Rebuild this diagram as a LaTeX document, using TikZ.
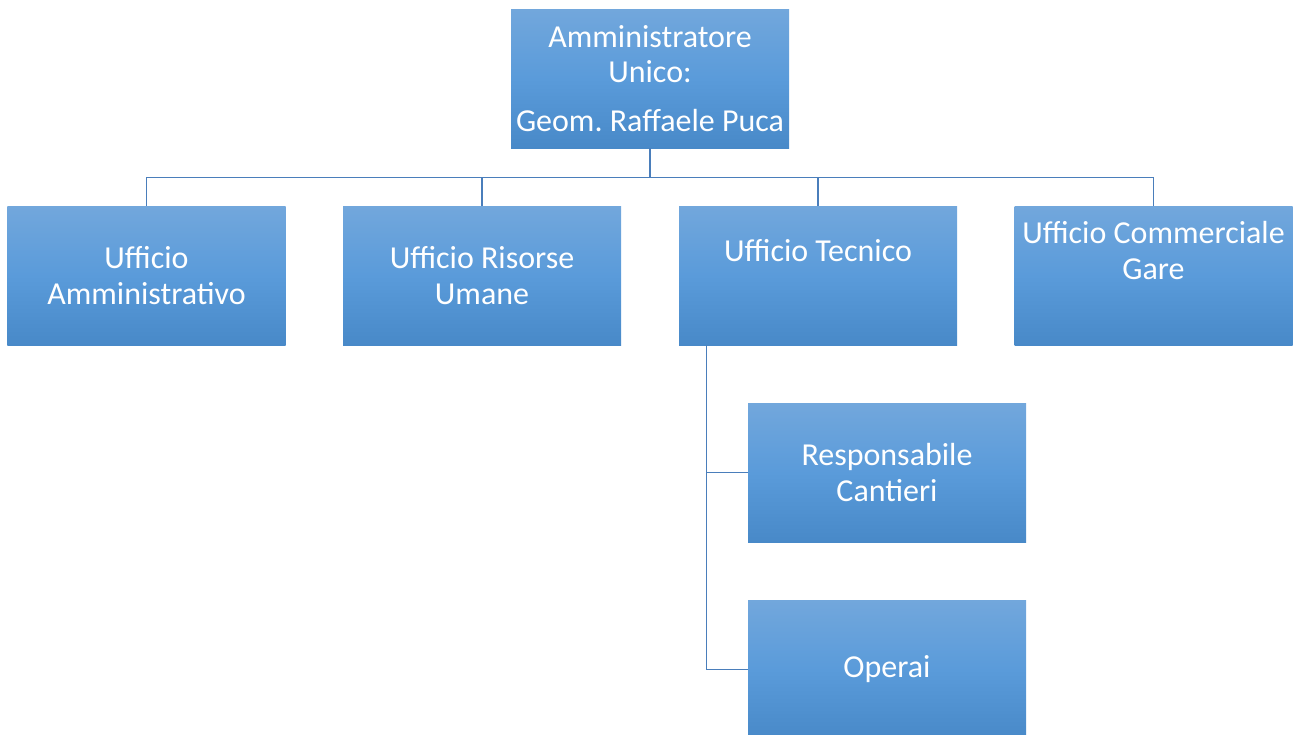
\documentclass[tikz,border=0pt]{standalone}
\usepackage{fontspec}
\setmainfont{Carlito}
\usepackage{tikz}
\usetikzlibrary{positioning}
\frenchspacing
\definecolor{boxtop}{HTML}{72A7DC}
\definecolor{boxmid}{HTML}{5A9BDA}
\definecolor{boxbot}{HTML}{4889C8}
\definecolor{linkblue}{HTML}{4A7EBB}
\tikzset{
    office/.style={
        rectangle,
        minimum width=5.56cm,
        minimum height=2.78cm,
        inner sep=0pt,
        top color=boxtop,
        bottom color=boxbot,
        middle color=boxmid,
        text=white,
        align=center,
        font=\fontsize{18.2}{20.4}\selectfont
    },
    officetext/.style={
        text=white,
        align=center,
        font=\fontsize{18.2}{20.4}\selectfont
    },
    link/.style={
        draw=linkblue,
        line width=0.9pt
    }
}

\begin{document}
\begin{tikzpicture}
        \useasboundingbox (0,0) rectangle (26.02,-14.68);
        \node[office] (admin) at (13.0,-1.57) {Amministratore\\Unico:\\[0.26cm]Geom. Raffaele Puca};
        \node[office] (amm) at (2.93,-5.51) {Ufficio\\Amministrativo};
        \node[office] (ris) at (9.64,-5.51) {Ufficio Risorse\\Umane};
        \node[office] (tec) at (16.36,-5.51) {};
        \node[officetext] (tectext) at ([yshift=0.49cm]tec.center) {Ufficio Tecnico};
        \node[office] (com) at (23.07,-5.51) {};
        \node[officetext] (comtext) at ([yshift=0.5cm]com.center) {Ufficio Commerciale\\Gare};
        \node[office] (resp) at (17.74,-9.45) {Responsabile\\Cantieri};
        \node[office] (ope) at (17.74,-13.39) {Operai};

        \draw[link] (admin.south) -- ++(0,-0.58) -| (amm.north);
        \draw[link] (admin.south) -- ++(0,-0.58) -| (ris.north);
        \draw[link] (admin.south) -- ++(0,-0.58) -| (tec.north);
        \draw[link] (admin.south) -- ++(0,-0.58) -| (com.north);
        \draw[link] ([xshift=0.56cm]tec.south west) |- (resp.west);
        \draw[link] ([xshift=0.56cm]tec.south west) |- (ope.west);
    \end{tikzpicture}
\end{document}
